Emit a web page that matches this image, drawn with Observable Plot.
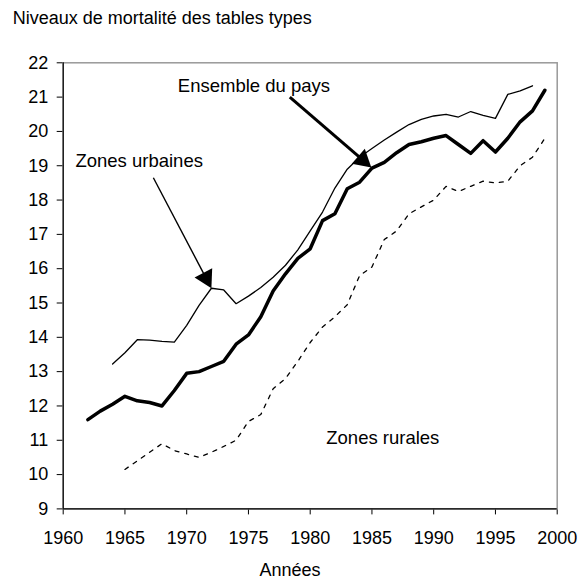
<!DOCTYPE html>
<html><head><meta charset="utf-8">
<script src="https://cdn.jsdelivr.net/npm/d3@7"></script>
<script src="https://cdn.jsdelivr.net/npm/@observablehq/plot@0.6"></script>
<style>
body{margin:0;background:#fff;}
#title{box-sizing:border-box;height:34px;padding:10px 0 0 12.7px;font-family:"Liberation Sans",Arial,sans-serif;font-size:18px;line-height:17.5px;color:#000;white-space:nowrap}
</style></head><body>
<div id="title">Niveaux de mortalité des tables types</div>
<div id="chart"></div>
<script>
// ---- data ----
const ensembleYears = [1962,1963,1964,1965,1966,1967,1968,1969,1970,1971,1972,1973,1974,1975,1976,1977,1978,1979,1980,1981,1982,1983,1984,1985,1986,1987,1988,1989,1990,1991,1992,1993,1994,1995,1996,1997,1998,1999];
const ensembleValues = [11.6,11.85,12.05,12.28,12.15,12.1,12.0,12.45,12.95,13.0,13.15,13.3,13.8,14.07,14.6,15.35,15.85,16.3,16.58,17.4,17.6,18.33,18.52,18.93,19.1,19.38,19.62,19.7,19.8,19.88,19.62,19.36,19.73,19.4,19.8,20.28,20.6,21.2];

const urbainYears = [1964,1965,1966,1967,1968,1969,1970,1971,1972,1973,1974,1975,1976,1977,1978,1979,1980,1981,1982,1983,1984,1985,1986,1987,1988,1989,1990,1991,1992,1993,1994,1995,1996,1997,1998];
const urbainValues = [13.22,13.55,13.93,13.92,13.88,13.86,14.35,14.93,15.43,15.38,14.98,15.2,15.45,15.75,16.1,16.55,17.1,17.65,18.35,18.9,19.25,19.5,19.75,19.98,20.2,20.35,20.45,20.5,20.42,20.58,20.47,20.38,21.08,21.18,21.33];

const ruralYears = [1965,1966,1967,1968,1969,1970,1971,1972,1973,1974,1975,1976,1977,1978,1979,1980,1981,1982,1983,1984,1985,1986,1987,1988,1989,1990,1991,1992,1993,1994,1995,1996,1997,1998,1999];
const ruralValues = [10.15,10.4,10.65,10.9,10.7,10.6,10.5,10.65,10.82,11.0,11.55,11.75,12.5,12.8,13.3,13.85,14.3,14.6,14.95,15.8,16.05,16.85,17.1,17.6,17.8,18.0,18.4,18.25,18.4,18.55,18.5,18.55,19.0,19.25,19.8];

const xTicks = [1960,1965,1970,1975,1980,1985,1990,1995,2000];
const yTicks = [9,10,11,12,13,14,15,16,17,18,19,20,21,22];

const labels = [
  {text: "Ensemble du pays", x: 1969.28, y: 21.31},
  {text: "Zones urbaines", x: 1960.99, y: 19.15},
  {text: "Zones rurales", x: 1981.3, y: 11.05}
];
const arrows = [
  {x1: 1978.35, y1: 21.0, x2: 1984.95, y2: 18.95, w: 3},
  {x1: 1967.3, y1: 18.65, x2: 1972.0, y2: 15.43, w: 1.4}
];

// ---- layout ----
const W = 579, H = 545, mL = 62.7, mR = 22.3, mT = 28.3, mB = 70.6;
const xDomain = [1960, 2000], yDomain = [9, 22];
const kx = (W - mL - mR) / (xDomain[1] - xDomain[0]);
const ky = (H - mT - mB) / (yDomain[1] - yDomain[0]);

const toRows = (ys, vs) => ys.map((y, i) => ({year: y, value: vs[i]}));
const ensemble = toRows(ensembleYears, ensembleValues);
const urbain = toRows(urbainYears, urbainValues);
const rural = toRows(ruralYears, ruralValues);

// arrowheads: filled triangle (d3 symbolTriangle2) whose tip sits at (x2, y2)
const R = 9.5;
const tipDist = Math.sqrt(Math.PI * R * R) * 0.6824;
const heads = arrows.map(a => {
  const dx = (a.x2 - a.x1) * kx, dy = -(a.y2 - a.y1) * ky;
  const len = Math.hypot(dx, dy), ux = dx / len, uy = dy / len;
  const angle = Math.atan2(dy, dx) * 180 / Math.PI + 90;
  return {
    x: a.x2 - ux * tipDist / kx,
    y: a.y2 + uy * tipDist / ky,
    angle,
    x1: a.x1, y1: a.y1, w: a.w
  };
});

const chart = Plot.plot({
  width: W, height: H,
  marginLeft: mL, marginRight: mR, marginTop: mT, marginBottom: mB,
  style: {fontFamily: "'Liberation Sans', Arial, sans-serif", fontSize: "18px", color: "#000", background: "#fff"},
  x: {domain: xDomain, ticks: xTicks, tickFormat: "d", tickSize: 6, tickPadding: 16, label: null},
  y: {domain: yDomain, ticks: yTicks, tickSize: 6, tickPadding: 9, label: null},
  marks: [
    Plot.frame({stroke: "#999", strokeWidth: 1.5}),
    Plot.line(rural, {x: "year", y: "value", stroke: "#000", strokeWidth: 1.3, strokeDasharray: "4,6"}),
    Plot.line(urbain, {x: "year", y: "value", stroke: "#000", strokeWidth: 1.3}),
    Plot.line(ensemble, {x: "year", y: "value", stroke: "#000", strokeWidth: 3.5}),
    Plot.ruleX([xDomain[0]], {stroke: "#000", strokeWidth: 1.2}),
    Plot.ruleY([yDomain[0]], {stroke: "#000", strokeWidth: 1.2}),
    Plot.link(heads, {x1: "x1", y1: "y1", x2: "x", y2: "y", stroke: "#000", strokeWidth: "w"}),
    Plot.dot(heads, {x: "x", y: "y", r: R, symbol: "triangle2", fill: "#000", stroke: "none", rotate: "angle"}),
    Plot.text(labels, {x: "x", y: "y", text: "text", textAnchor: "start", fontSize: 18.5, fill: "#000"}),
    Plot.text(["Années"], {frameAnchor: "bottom", dx: 289.5 - (mL + (W - mL - mR) / 2), dy: 67, fontSize: 18, fill: "#000"})
  ]
});
document.getElementById("chart").appendChild(chart);
</script></body></html>
